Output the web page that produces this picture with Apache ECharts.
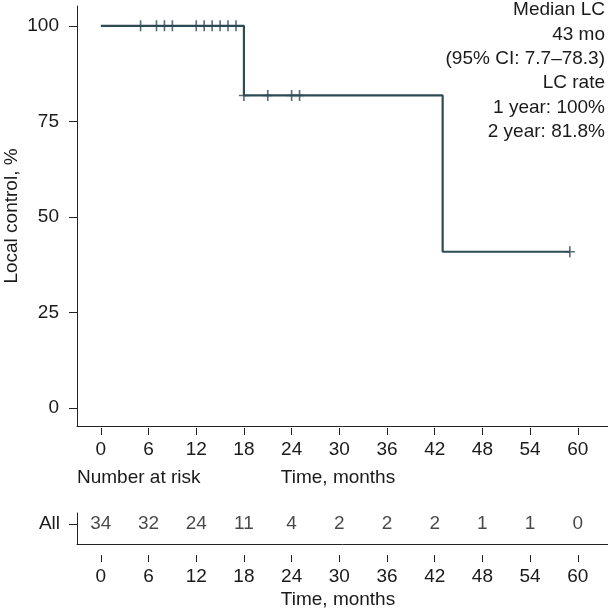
<!DOCTYPE html>
<html>
<head>
<meta charset="utf-8">
<script src="https://cdn.jsdelivr.net/npm/echarts@6/dist/echarts.min.js"></script>
<style>html,body{margin:0;padding:0;background:#fff}#c{width:608px;height:608px}</style>
</head>
<body>
<div id="c"></div>
<script>
// KM step curve (time in months, local control %)
var stepTimes = [0, 18, 43, 59];
var stepValues = [100, 81.8, 40.9, 40.9];
// censor marks
var censorTimes = [5, 7, 8, 9, 12, 13, 14, 15, 16, 17, 18, 21, 24, 25, 59];
var censorValues = [100, 100, 100, 100, 100, 100, 100, 100, 100, 100, 81.8, 81.8, 81.8, 81.8, 40.9];
// axis ticks
var xTicks = [0, 6, 12, 18, 24, 30, 36, 42, 48, 54, 60];
var yTicks = [0, 25, 50, 75, 100];
// number at risk
var riskTimes = [0, 6, 12, 18, 24, 30, 36, 42, 48, 54, 60];
var riskCounts = [34, 32, 24, 11, 4, 2, 2, 2, 1, 1, 0];
var riskGroup = 'All';
// annotation
var noteLines = ['Median LC', '43 mo', '(95% CI: 7.7\u201378.3)', 'LC rate', '1 year: 100%', '2 year: 81.8%'];

var FONT = '"Liberation Sans", Arial, Helvetica, sans-serif';
var FS = 19;
var TXT = '#1a1a1a';
var AX = '#222';
var CURVE = '#2e4a55';

var chart = echarts.init(document.getElementById('c'), null, {renderer: 'canvas'});

function lineOnlyX(grid) {
  return {gridIndex: grid, type: 'value', position: 'bottom', min: -3, max: 63.8,
    axisLine: {show: true, onZero: false, lineStyle: {color: AX, width: 1}},
    axisTick: {show: false}, axisLabel: {show: false}, splitLine: {show: false}};
}
function tickX(grid, off, vals, margin) {
  return {gridIndex: grid, type: 'value', position: 'bottom', min: -3, max: 63.8, offset: off,
    axisLine: {show: false, onZero: false},
    axisTick: {show: true, length: 7, customValues: vals, lineStyle: {color: AX}},
    axisLabel: {show: true, customValues: vals, fontSize: FS, color: TXT, margin: margin, fontFamily: FONT},
    splitLine: {show: false}};
}

var option = {
  animation: false,
  backgroundColor: '#fff',
  textStyle: {fontFamily: FONT},
  grid: [
    {left: 77, top: 6, width: 531, height: 420, containLabel: false, outerBoundsMode: 'none'},
    {left: 77, top: 513, width: 531, height: 31, containLabel: false, outerBoundsMode: 'none'}
  ],
  xAxis: [
    lineOnlyX(0),
    tickX(0, 2, xTicks, 12),
    lineOnlyX(1),
    tickX(1, 11, riskTimes, 12)
  ],
  yAxis: [
    {
      gridIndex: 0, type: 'value', position: 'left', min: -4.7, max: 105.2,
      axisLine: {show: true, onZero: false, lineStyle: {color: AX, width: 1}},
      axisTick: {show: true, length: 8, customValues: yTicks, lineStyle: {color: AX}},
      axisLabel: {show: true, customValues: yTicks, fontSize: FS, color: TXT, margin: 18, fontFamily: FONT},
      splitLine: {show: false}
    },
    {
      gridIndex: 1, type: 'value', position: 'left', min: 0, max: 1.55,
      axisLine: {show: true, onZero: false, lineStyle: {color: AX, width: 1}},
      axisTick: {show: true, length: 8, customValues: [1], lineStyle: {color: AX}},
      axisLabel: {show: true, customValues: [1], formatter: function () { return riskGroup; }, fontSize: FS, color: TXT, margin: 17, fontFamily: FONT},
      splitLine: {show: false}
    }
  ],
  series: [
    {
      type: 'line', xAxisIndex: 0, yAxisIndex: 0, step: 'end', symbol: 'none',
      lineStyle: {color: CURVE, width: 2.2},
      data: stepTimes.map(function (t, i) { return [t, stepValues[i]]; }),
      z: 2
    },
    {
      type: 'scatter', xAxisIndex: 0, yAxisIndex: 0,
      symbol: 'path://M-0.13,-1 L0.13,-1 L0.13,1 L-0.13,1 Z M-0.8,-0.13 L0.8,-0.13 L0.8,0.13 L-0.8,0.13 Z',
      symbolSize: [10, 11],
      itemStyle: {color: CURVE},
      data: censorTimes.map(function (t, i) { return [t, censorValues[i]]; }),
      z: 3
    },
    {
      type: 'scatter', xAxisIndex: 2, yAxisIndex: 1, symbolSize: 0,
      label: {show: true, position: 'inside', fontSize: FS, color: TXT, fontFamily: FONT,
        formatter: function (p) { return String(p.value[2]); }},
      data: riskTimes.map(function (t, i) { return [t, 1, riskCounts[i]]; })
    }
  ],
  graphic: [
    {type: 'text', x: 12, y: 216, rotation: Math.PI / 2, style: {text: 'Local control, %', fill: TXT, font: FS + 'px ' + FONT, textAlign: 'center', textVerticalAlign: 'middle'}},
    {type: 'text', x: 77, y: 478, style: {text: 'Number at risk', fill: TXT, font: FS + 'px ' + FONT, textAlign: 'left', textVerticalAlign: 'middle'}},
    {type: 'text', x: 338, y: 478, style: {text: 'Time, months', fill: TXT, font: FS + 'px ' + FONT, textAlign: 'center', textVerticalAlign: 'middle'}},
    {type: 'text', x: 338, y: 600, style: {text: 'Time, months', fill: TXT, font: FS + 'px ' + FONT, textAlign: 'center', textVerticalAlign: 'middle'}}
  ].concat(noteLines.map(function (s, i) {
    return {type: 'text', x: 605, y: 10 + i * 24.4, style: {text: s, fill: TXT, font: FS + 'px ' + FONT, textAlign: 'right', textVerticalAlign: 'middle'}};
  }))
};
chart.setOption(option);
</script>
</body>
</html>
